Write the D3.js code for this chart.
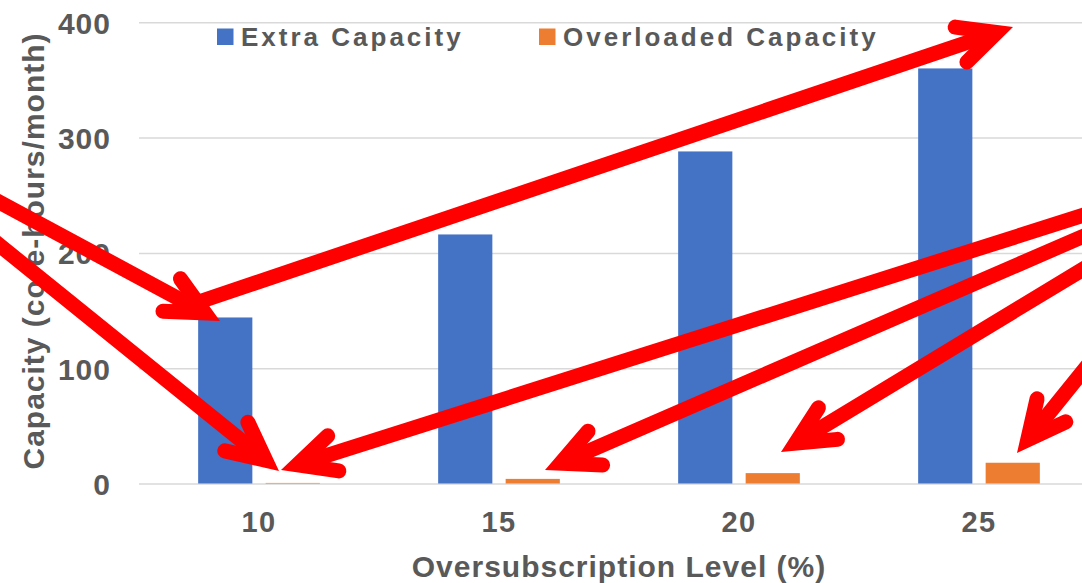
<!DOCTYPE html>
<html>
<head>
<meta charset="utf-8">
<script src="https://cdn.jsdelivr.net/npm/d3@7/dist/d3.min.js"></script>
<style>
  html, body { margin: 0; padding: 0; background: #ffffff; }
  svg { display: block; font-family: "Liberation Sans", Arial, sans-serif; font-weight: bold; }
</style>
</head>
<body>
<svg id="chart" width="1082" height="583"></svg>
<script>
// Oversubscription levels (%) on the x axis
const categories = ["10", "15", "20", "25"];
// Capacity in core-hours/month
const extraCapacity = [144, 216, 288, 360];
const overloadedCapacity = [0.5, 4, 9, 18];
const yTicks = [0, 100, 200, 300, 400];
const seriesNames = ["Extra Capacity", "Overloaded Capacity"];
const seriesColors = ["#4472c4", "#ed7d31"];

// Red call-out arrows drawn over the chart (tail -> tip, in pixels)
const calloutArrows = [
  { tail: [178, 309], tip: [1013, 27] },
  { tail: [-12, 196], tip: [220, 321] },
  { tail: [-12, 236], tip: [279, 471] },
  { tail: [1100, 210], tip: [281, 470] },
  { tail: [1100, 229], tip: [545, 470] },
  { tail: [1100, 259], tip: [781, 452] },
  { tail: [1100, 350], tip: [1017, 453] }
];

const textColor = "#595959";
const gridColor = "#d9d9d9";
const svg = d3.select("#chart");

const plotLeft = 139, plotRight = 1099, plotTop = 22.3, plotBottom = 483.5;

const x0 = d3.scaleBand()
  .domain(categories)
  .range([plotLeft, plotRight])
  .paddingInner(0.493)
  .paddingOuter(0.2465);

const x1 = d3.scaleBand()
  .domain(seriesNames)
  .range([0, x0.bandwidth()])
  .paddingInner(0.197)
  .paddingOuter(0);

const y = d3.scaleLinear().domain([0, 400]).range([plotBottom, plotTop]);

// Y axis with horizontal gridlines
const yAxis = svg.append("g")
  .attr("transform", `translate(${plotLeft},0)`)
  .call(d3.axisLeft(y).tickValues(yTicks).tickSize(-(plotRight - plotLeft)).tickPadding(28));
yAxis.select(".domain").remove();
yAxis.selectAll(".tick line").attr("stroke", gridColor).attr("stroke-width", 1.5);
yAxis.selectAll(".tick text")
  .attr("fill", textColor)
  .attr("font-size", 30)
  .attr("font-weight", "bold")
  .attr("font-family", "'Liberation Sans', Arial, sans-serif")
  .attr("letter-spacing", 1)
  .attr("dy", "0.36em");

// Bars
const series = [extraCapacity, overloadedCapacity];
const groups = svg.append("g").selectAll("g")
  .data(categories)
  .join("g")
  .attr("transform", d => `translate(${x0(d)},0)`);

groups.selectAll("rect")
  .data((d, i) => seriesNames.map((name, s) => ({ name, value: series[s][i], color: seriesColors[s] })))
  .join("rect")
  .attr("x", d => x1(d.name))
  .attr("width", x1.bandwidth())
  .attr("y", d => y(d.value))
  .attr("height", d => y(0) - y(d.value))
  .attr("fill", d => d.color);

// X axis labels
const xAxis = svg.append("g")
  .attr("transform", `translate(0,${plotBottom})`)
  .call(d3.axisBottom(x0).tickSize(0).tickPadding(0));
xAxis.select(".domain").remove();
xAxis.selectAll(".tick text")
  .attr("fill", textColor)
  .attr("font-size", 29)
  .attr("font-weight", "bold")
  .attr("font-family", "'Liberation Sans', Arial, sans-serif")
  .attr("letter-spacing", 1.5)
  .attr("y", 48.5)
  .attr("dy", 0);

// Axis titles
svg.append("text")
  .attr("x", (plotLeft + plotRight) / 2)
  .attr("y", 577)
  .attr("text-anchor", "middle")
  .attr("fill", textColor)
  .attr("font-size", 30)
  .attr("letter-spacing", 1)
  .text("Oversubscription Level (%)");

svg.append("text")
  .attr("transform", "translate(43.5,251) rotate(-90)")
  .attr("text-anchor", "middle")
  .attr("fill", textColor)
  .attr("font-size", 30)
  .attr("letter-spacing", 1)
  .text("Capacity (core-hours/month)");

// Legend
const legendItems = [
  { name: seriesNames[0], color: seriesColors[0], sx: 217, tx: 241 },
  { name: seriesNames[1], color: seriesColors[1], sx: 539, tx: 563 }
];
const legend = svg.append("g").selectAll("g").data(legendItems).join("g");
legend.append("rect")
  .attr("x", d => d.sx).attr("y", 28.5)
  .attr("width", 16.5).attr("height", 16.5)
  .attr("fill", d => d.color);
legend.append("text")
  .attr("x", d => d.tx).attr("y", 45.5)
  .attr("fill", textColor)
  .attr("font-size", 26)
  .attr("letter-spacing", 3)
  .text(d => d.name);

// Call-out arrows
const strokeW = 15, halfAngle = 26 * Math.PI / 180, armLen = 42;
const arrowLayer = svg.append("g")
  .attr("stroke", "#ff0000")
  .attr("stroke-width", strokeW)
  .attr("fill", "none");

calloutArrows.forEach(a => {
  const dx = a.tip[0] - a.tail[0], dy = a.tip[1] - a.tail[1];
  const len = Math.hypot(dx, dy);
  const ux = dx / len, uy = dy / len;
  const back = (strokeW / 2) / Math.sin(halfAngle);
  const vx = a.tip[0] - ux * back, vy = a.tip[1] - uy * back;
  const rot = (ang) => [
    -ux * Math.cos(ang) + uy * Math.sin(ang),
    -uy * Math.cos(ang) - ux * Math.sin(ang)
  ];
  const r1 = rot(halfAngle), r2 = rot(-halfAngle);
  const p = d3.path();
  p.moveTo(a.tail[0], a.tail[1]);
  p.lineTo(vx - ux * 4, vy - uy * 4);
  arrowLayer.append("path").attr("d", p.toString()).attr("stroke-linecap", "round");
  const h = d3.path();
  h.moveTo(vx + r1[0] * armLen, vy + r1[1] * armLen);
  h.lineTo(vx, vy);
  h.lineTo(vx + r2[0] * armLen, vy + r2[1] * armLen);
  arrowLayer.append("path").attr("d", h.toString())
    .attr("stroke-linecap", "round")
    .attr("stroke-linejoin", "miter")
    .attr("stroke-miterlimit", 10);
});
</script>
</body>
</html>
